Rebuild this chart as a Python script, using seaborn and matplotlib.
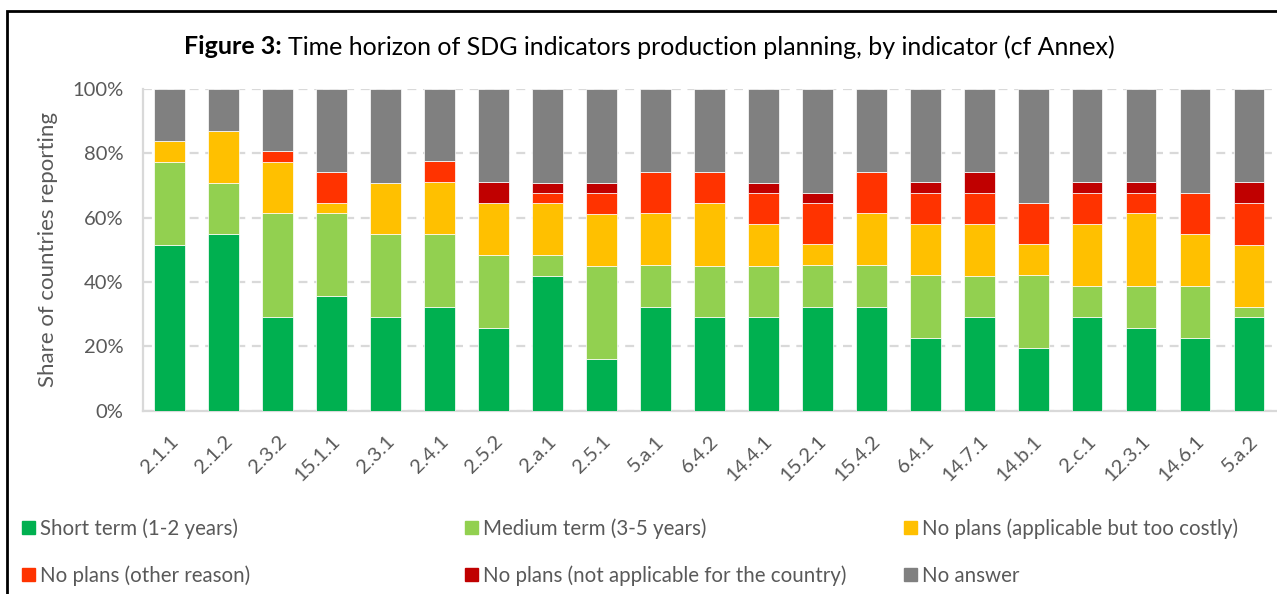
import matplotlib
matplotlib.use("Agg")
import matplotlib.pyplot as plt
import matplotlib.patches as mpatches
from matplotlib.ticker import PercentFormatter
import seaborn as sns
import pandas as pd
import numpy as np

indicators = ["2.1.1", "2.1.2", "2.3.2", "15.1.1", "2.3.1", "2.4.1", "2.5.2", "2.a.1", "2.5.1",
              "5.a.1", "6.4.2", "14.4.1", "15.2.1", "15.4.2", "6.4.1", "14.7.1", "14.b.1",
              "2.c.1", "12.3.1", "14.6.1", "5.a.2"]

# shares of countries reporting (%)
short_term = [51.6, 54.8, 29.0, 35.5, 29.0, 32.3, 25.8, 41.9, 16.1, 32.3, 29.0, 29.0, 32.3, 32.3,
              22.6, 29.0, 19.4, 29.0, 25.8, 22.6, 29.0]
medium_term = [25.8, 16.1, 32.3, 25.8, 25.8, 22.6, 22.6, 6.5, 29.0, 12.9, 16.1, 16.1, 12.9, 12.9,
               19.4, 12.9, 22.6, 9.7, 12.9, 16.1, 3.2]
no_plans_costly = [6.5, 16.1, 16.1, 3.2, 16.1, 16.1, 16.1, 16.1, 16.1, 16.1, 19.4, 12.9, 6.5, 16.1,
                   16.1, 16.1, 9.7, 19.4, 22.6, 16.1, 19.4]
no_plans_other = [0.0, 0.0, 3.2, 9.7, 0.0, 6.5, 0.0, 3.2, 6.5, 12.9, 9.7, 9.7, 12.9, 12.9,
                  9.7, 9.7, 12.9, 9.7, 6.5, 12.9, 12.9]
no_plans_na = [0.0, 0.0, 0.0, 0.0, 0.0, 0.0, 6.5, 3.2, 3.2, 0.0, 0.0, 3.2, 3.2, 0.0,
               3.2, 6.5, 0.0, 3.2, 3.2, 0.0, 6.5]
no_answer = [16.1, 12.9, 19.4, 25.8, 29.0, 22.6, 29.0, 29.0, 29.0, 25.8, 25.8, 29.0, 32.3, 25.8,
             29.0, 25.8, 35.5, 29.0, 29.0, 32.3, 29.0]

series_names = ["Short term (1-2 years)", "Medium term (3-5 years)",
                "No plans (applicable but too costly)", "No plans (other reason)",
                "No plans (not applicable for the country)", "No answer"]
series_vals = [short_term, medium_term, no_plans_costly, no_plans_other, no_plans_na, no_answer]
colors = ["#00B050", "#92D050", "#FFC000", "#FF3300", "#C00000", "#808080"]

sns.set_style("white")
plt.rcParams["font.family"] = ["Lato", "DejaVu Sans"]

W, H = 1277, 594
fig = plt.figure(figsize=(W / 100, H / 100), dpi=100)
ax_left, ax_right = 142.7, 1276
ax_top, ax_bot = 89, 410.5
ax = fig.add_axes([ax_left / W, (H - ax_bot) / H, (ax_right - ax_left) / W, (ax_bot - ax_top) / H])

df = pd.DataFrame({"indicator": indicators})
bottom = np.zeros(len(indicators))
for name, vals, c in zip(series_names, series_vals, colors):
    df[name] = vals
    sns.barplot(data=df, x="indicator", y=name, bottom=bottom, color=c, width=0.57,
                edgecolor="white", linewidth=0.5, ax=ax, zorder=3, saturation=1)
    bottom = bottom + np.array(vals)

ax.set_xlim(-0.5, len(indicators) - 0.5)
ax.set_ylim(0, 100)
ax.set_yticks([0, 20, 40, 60, 80, 100])
ax.yaxis.set_major_formatter(PercentFormatter(decimals=0))
ax.grid(axis="y", color="#d9d9d9", linestyle=(0, (4, 3)), linewidth=1.6, zorder=0)
ax.grid(axis="x", visible=False)
for s in ["top", "right"]:
    ax.spines[s].set_visible(False)
for s in ["left", "bottom"]:
    ax.spines[s].set_color("#d9d9d9")
    ax.spines[s].set_linewidth(1.6)
ax.tick_params(axis="both", length=0, labelsize=14.5, labelcolor="#595959")
ax.tick_params(axis="y", pad=14)
ax.tick_params(axis="x", pad=16)
ax.set_xlabel("")
ax.set_ylabel("Share of countries reporting", fontsize=16, color="#595959", labelpad=10)
for lab in ax.get_xticklabels():
    lab.set_rotation(45)
    lab.set_ha("right")
    lab.set_va("top")
    lab.set_rotation_mode("anchor")

# title
fig.text(282 / W, 1 - 47 / H, "Figure 3:", fontsize=18, fontweight="bold", ha="right", va="center",
         color="black")
fig.text(288 / W, 1 - 47 / H, "Time horizon of SDG indicators production planning, by indicator (cf Annex)",
         fontsize=18, ha="left", va="center", color="black")

# legend in three columns
handles = [mpatches.Patch(color=c, label=n) for n, c in zip(series_names, colors)]
col_x = [14, 457, 896]
for i, x in enumerate(col_x):
    lg = fig.legend(handles=[handles[i], handles[i + 3]], loc="upper left",
                    bbox_to_anchor=(x / W, 1 - 510 / H), frameon=False, fontsize=14.8,
                    labelcolor="#595959", handlelength=0.6, handleheight=0.6, handletextpad=0.25,
                    labelspacing=1.3, borderaxespad=0)

# frame
fig.add_artist(mpatches.Rectangle((7 / W, -0.2), 2.0, (H - 11) / H + 0.2, transform=fig.transFigure,
                                  fill=False, edgecolor="black", linewidth=2, clip_on=False))

fig.savefig("out.png", dpi=100)
